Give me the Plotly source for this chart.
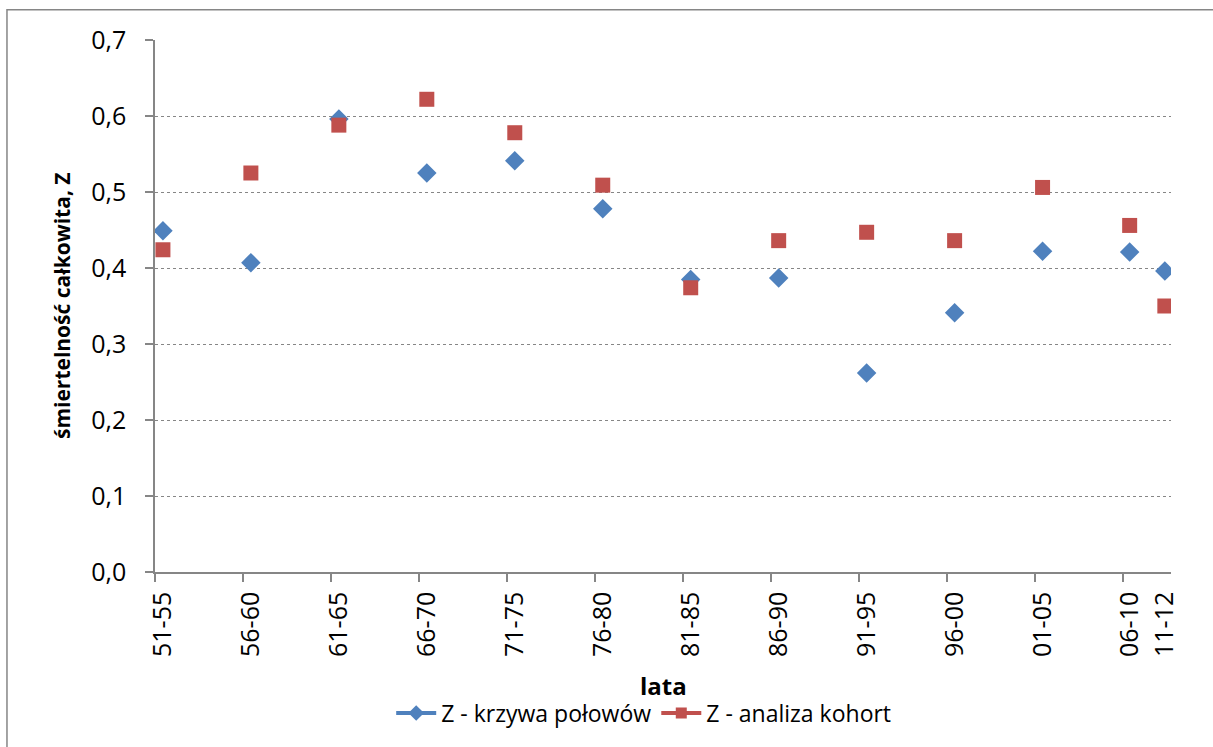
import plotly.graph_objects as go

categories = ["51-55", "56-60", "61-65", "66-70", "71-75", "76-80", "81-85",
              "86-90", "91-95", "96-00", "01-05", "06-10", "11-12"]
x_pos = [1951.45, 1956.45, 1961.45, 1966.45, 1971.45, 1976.45, 1981.45,
         1986.45, 1991.45, 1996.45, 2001.45, 2006.4, 2008.4]
tick_marks = [1951, 1956, 1961, 1966, 1971, 1976, 1981, 1986, 1991, 1996, 2001, 2006]
z_krzywa = [0.449, 0.407, 0.596, 0.525, 0.541, 0.478, 0.385, 0.387, 0.262,
            0.341, 0.422, 0.421, 0.396]
z_kohort = [0.424, 0.525, 0.588, 0.622, 0.578, 0.509, 0.374, 0.436, 0.447,
            0.436, 0.506, 0.456, 0.350]
y_ticks = [0.0, 0.1, 0.2, 0.3, 0.4, 0.5, 0.6, 0.7]

BLUE = "#4F81BD"
RED = "#C0504D"
GRID = "#868686"
FONT = "Open Sans"

fig = go.Figure()
fig.add_trace(go.Scatter(x=x_pos, y=z_krzywa, mode="markers", showlegend=False,
                         marker=dict(symbol="diamond", size=15, color=BLUE)))
fig.add_trace(go.Scatter(x=x_pos, y=z_kohort, mode="markers", showlegend=False,
                         marker=dict(symbol="square", size=15, color=RED)))
# legend entries (line + marker style as in original)
fig.add_trace(go.Scatter(x=[None], y=[None], mode="lines+markers", name="Z - krzywa połowów",
                         line=dict(color=BLUE, width=4),
                         marker=dict(symbol="diamond", size=12, color=BLUE)))
fig.add_trace(go.Scatter(x=[None], y=[None], mode="lines+markers", name="Z - analiza kohort",
                         line=dict(color=RED, width=4),
                         marker=dict(symbol="square", size=11, color=RED)))

fig.update_layout(
    width=1213, height=747,
    margin=dict(l=155, r=42, t=40, b=172),
    paper_bgcolor="white", plot_bgcolor="white",
    separators=", ",
    font=dict(family=FONT, size=20, color="black"),
    showlegend=True,
    legend=dict(orientation="h", x=0.481, xanchor="center", y=-0.265, yanchor="middle",
                font=dict(family=FONT, size=23, color="black"), itemwidth=40,
                tracegroupgap=0, bgcolor="rgba(0,0,0,0)"),
    xaxis=dict(range=[1951, 2008.75], tickmode="array", tickvals=x_pos, ticktext=categories,
               tickangle=-90, ticks="", showgrid=False, zeroline=False,
               showline=True, linecolor=GRID, linewidth=1.5, automargin=False,
               ticklabelstandoff=8,
               tickfont=dict(family=FONT, size=25),
               minor=dict(tickmode="array", tickvals=tick_marks, ticks="outside",
                          ticklen=8, tickcolor=GRID, tickwidth=1.5, showgrid=False)),
    yaxis=dict(range=[0, 0.7], tickmode="array", tickvals=y_ticks, tickformat=".1f",
               ticks="outside", ticklen=8, tickcolor=GRID, tickwidth=1.5,
               showgrid=True, gridcolor=GRID, griddash="dot", gridwidth=1,
               zeroline=False, showline=True, linecolor=GRID, linewidth=1.5,
               automargin=False, ticklabelstandoff=14,
               tickfont=dict(family=FONT, size=25)),
    annotations=[
        dict(text="<b>śmiertelność całkowita, Z</b>", xref="paper", yref="paper",
             x=-0.0915, y=0.5, textangle=-90, showarrow=False,
             font=dict(family=FONT, size=21), xanchor="center", yanchor="middle"),
        dict(text="<b>lata</b>", xref="paper", yref="paper", x=0.5, y=-0.213,
             showarrow=False, font=dict(family=FONT, size=24),
             xanchor="center", yanchor="middle"),
    ],
    shapes=[dict(type="rect", xref="paper", yref="paper", x0=-0.1457, x1=1.1,
                 y0=-0.4, y1=1.057, line=dict(color=GRID, width=1.5), layer="below")],
)

fig.write_html("out.html")
